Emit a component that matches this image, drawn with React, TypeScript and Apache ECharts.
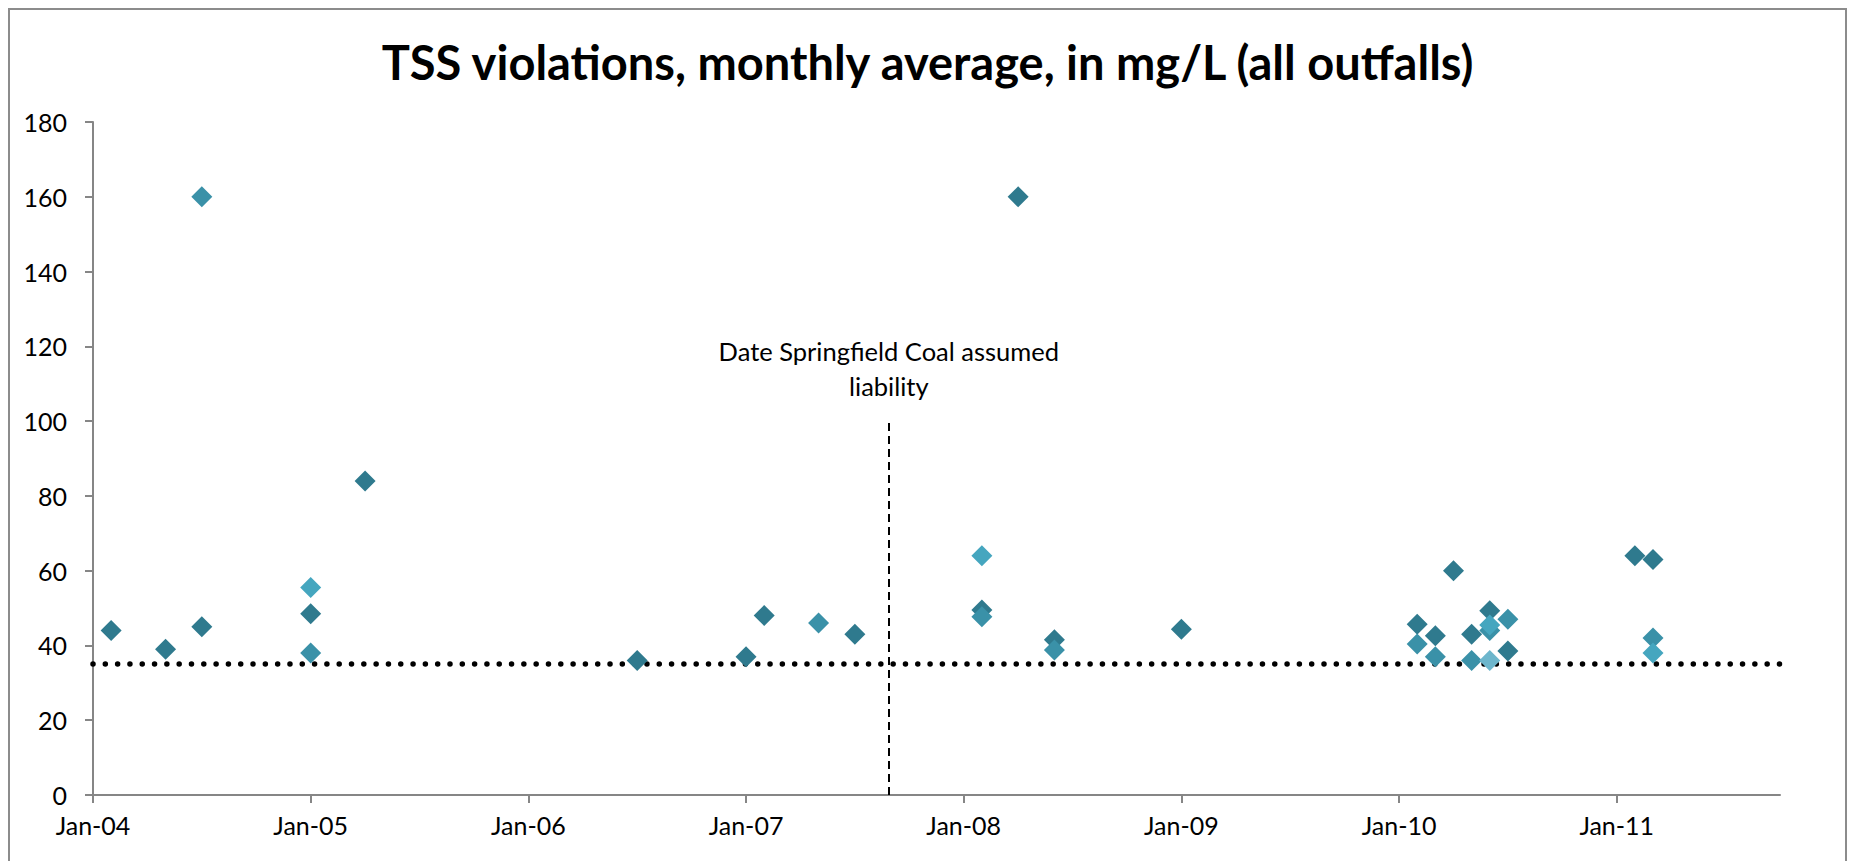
import React, { useEffect, useRef } from "react";
import * as echarts from "echarts";

// ---- data (dates as YYYY-MM, values in mg/L) ----
const tickLabels = ["Jan-04", "Jan-05", "Jan-06", "Jan-07", "Jan-08", "Jan-09", "Jan-10", "Jan-11"];

const outfallADates = ["2004-02", "2004-05", "2004-07", "2005-01", "2005-04", "2006-07", "2007-01", "2007-02", "2007-07", "2008-02", "2008-04", "2008-06", "2009-01", "2010-02", "2010-03", "2010-04", "2010-05", "2010-06", "2010-07", "2011-02", "2011-03"];
const outfallAValues = [44, 39, 45, 48.5, 84, 36, 37, 48, 43, 49.5, 160, 41.5, 44.3, 45.7, 42.6, 60, 43, 49.3, 38.5, 64, 63];

const outfallBDates = ["2004-07", "2005-01", "2007-05", "2008-02", "2008-06", "2010-02", "2010-03", "2010-05", "2010-06", "2010-07", "2011-03"];
const outfallBValues = [160, 38, 46, 47.7, 38.8, 40.4, 37, 36, 44, 47, 42];

const outfallCDates = ["2005-01", "2008-02", "2010-06", "2011-03"];
const outfallCValues = [55.5, 64, 45.5, 38];

const outfallDDates = ["2010-06"];
const outfallDValues = [36];

const limitValue = 35;
const liabilityDate = "2007-08-28";
const liabilityTop = 100;

const startYear = 2004;
const axisMaxMonth = 93;

function toMonth(s: string): number {
  const parts = s.split("-").map(Number);
  const y = parts[0], m = parts[1], d = parts[2];
  let v = (y - startYear) * 12 + (m - 1);
  if (d) {
    const dim = new Date(y, m, 0).getDate();
    v += (d - 1) / dim;
  }
  return v;
}

function pairs(dates: string[], values: number[]) {
  return dates.map((d, i) => [toMonth(d), values[i]]);
}

const FONT = "Lato";

export default function App() {
  const ref = useRef<HTMLDivElement>(null);
  useEffect(() => {
    if (!ref.current) return;
    const chart = echarts.init(ref.current, null, { renderer: "svg" });
    const tickVals = tickLabels.map((_, i) => i * 12);
    const diamond = (name: string, color: string, data: number[][], z: number) => ({
      name,
      type: "scatter",
      symbol: "diamond",
      symbolSize: 21,
      itemStyle: { color, opacity: 1 },
      data,
      z,
    });
    chart.setOption({
      animation: false,
      backgroundColor: "#ffffff",
      textStyle: { fontFamily: FONT },
      title: {
        text: "TSS violations, monthly average, in mg/L (all outfalls)",
        left: "center",
        top: 33,
        textStyle: { fontFamily: FONT, fontWeight: "bold", fontSize: 47, color: "#000" },
      },
      graphic: [
        {
          type: "rect",
          shape: { x: 9, y: 9, width: 1837, height: 900 },
          style: { fill: "none", stroke: "#8c8c8c", lineWidth: 2 },
          silent: true,
        },
      ],
      grid: { left: 93, right: 75, top: 122, bottom: 66, containLabel: false },
      xAxis: {
        type: "value",
        min: 0,
        max: axisMaxMonth,
        interval: 12,
        splitLine: { show: false },
        axisLine: { onZero: false, lineStyle: { color: "#868686", width: 2 } },
        axisTick: { show: true, length: 8, customValues: tickVals, lineStyle: { color: "#868686", width: 2 } },
        axisLabel: {
          customValues: tickVals,
          formatter: (v: number) => tickLabels[Math.round(v / 12)] ?? "",
          fontFamily: FONT,
          fontSize: 25,
          color: "#000",
          margin: 17,
        },
      },
      yAxis: {
        type: "value",
        min: 0,
        max: 180,
        interval: 20,
        splitLine: { show: false },
        axisLine: { show: true, lineStyle: { color: "#868686", width: 2 } },
        axisTick: { show: true, length: 8, lineStyle: { color: "#868686", width: 2 } },
        axisLabel: { fontFamily: FONT, fontSize: 25, color: "#000", margin: 26 },
      },
      series: [
        {
          name: "reference lines",
          type: "scatter",
          data: [],
          z: 1,
          markLine: {
            silent: true,
            symbol: "none",
            z: 1,
            animation: false,
            data: [
              {
                yAxis: limitValue,
                lineStyle: { color: "#000", width: 5.5, type: [0.01, 12.3], cap: "round" },
                label: { show: false },
              },
              [
                {
                  coord: [toMonth(liabilityDate), 0],
                  lineStyle: { color: "#000", width: 2, type: [8, 5] },
                  label: {
                    show: true,
                    position: "end",
                    distance: 18,
                    formatter: "Date Springfield Coal assumed\nliability",
                    fontFamily: FONT,
                    fontSize: 25.5,
                    lineHeight: 35,
                    color: "#000",
                    align: "center",
                  },
                },
                { coord: [toMonth(liabilityDate), liabilityTop] },
              ],
            ],
          },
        },
        diamond("Outfall A", "#2f7a8e", pairs(outfallADates, outfallAValues), 3),
        diamond("Outfall B", "#3a91a8", pairs(outfallBDates, outfallBValues), 4),
        diamond("Outfall C", "#45a6bf", pairs(outfallCDates, outfallCValues), 5),
        diamond("Outfall D", "#6db6cc", pairs(outfallDDates, outfallDValues), 6),
      ],
    });
    return () => chart.dispose();
  }, []);
  return (
    <div
      ref={ref}
      style={{ position: "fixed", left: 0, top: 0, width: 1855, height: 861, background: "#fff" }}
    />
  );
}
